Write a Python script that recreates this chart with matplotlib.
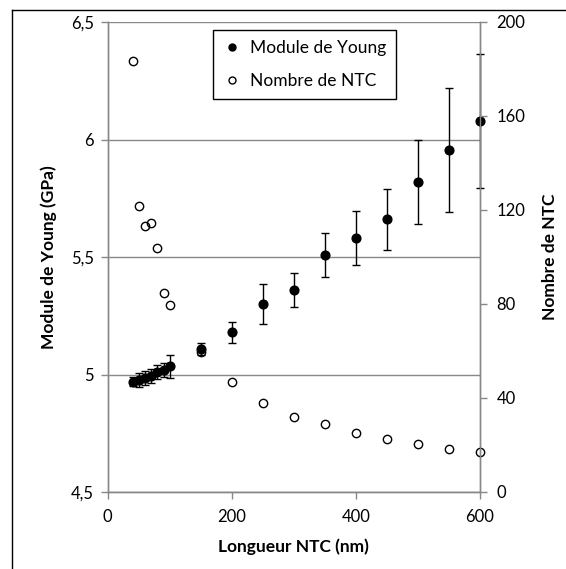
import matplotlib.pyplot as plt
from matplotlib.lines import Line2D
from matplotlib.ticker import FuncFormatter

plt.rcParams['font.family'] = ['Lato', 'DejaVu Sans']

# longueur des NTC (nm)
longueur = [40, 50, 60, 70, 80, 90, 100, 150, 200, 250, 300, 350, 400, 450, 500, 550, 600]
# module de Young (GPa) et erreur
young = [4.97, 4.975, 4.985, 4.995, 5.01, 5.02, 5.035, 5.11, 5.18, 5.30, 5.36, 5.51,
         5.58, 5.66, 5.82, 5.955, 6.08]
young_err = [0.02, 0.03, 0.03, 0.03, 0.03, 0.03, 0.05, 0.025, 0.045, 0.083, 0.072, 0.093,
             0.115, 0.13, 0.18, 0.265, 0.285]
# nombre de NTC
nombre = [183.5, 121.5, 113, 114.5, 104, 84.5, 79.5, 59.5, 47, 38, 32, 29,
          25, 22.6, 20.4, 18.5, 17.2]

gris = '#888888'

fig = plt.figure(figsize=(5.66, 5.69), dpi=100)
ax = fig.add_axes([107.7/566, 1 - 492/569, (480 - 107.7)/566, (492 - 22)/569])
ax2 = ax.twinx()

eb = ax.errorbar(longueur, young, yerr=young_err, fmt='o', color='black', ms=6.3,
                 ecolor='black', elinewidth=1, capsize=2.6, capthick=1, zorder=3)
for art in eb.lines[0:1] + tuple(eb.lines[1]) + tuple(eb.lines[2]):
    art.set_clip_on(False)
ax2.plot(longueur, nombre, 'o', mfc='none', mec='black', mew=1, ms=6, clip_on=False)

ax.set_xlim(0, 600)
ax.set_ylim(4.5, 6.5)
ax2.set_ylim(0, 200)
ax.set_xticks([0, 200, 400, 600])
ax.set_yticks([4.5, 5, 5.5, 6, 6.5])
ax2.set_yticks([0, 40, 80, 120, 160, 200])
ax.yaxis.set_major_formatter(FuncFormatter(lambda v, p: ('%g' % v).replace('.', ',')))

for a in (ax, ax2):
    for s in a.spines.values():
        s.set_color(gris)
        s.set_linewidth(1)
    a.spines['top'].set_visible(False)
ax.grid(axis='y', color=gris, lw=1)
ax.set_axisbelow(True)
ax.tick_params(axis='both', color=gris, length=5, width=1, labelsize=12, pad=5)
ax2.tick_params(axis='y', color=gris, length=5, width=1, labelsize=12, pad=7)
ax.tick_params(axis='x', pad=7)

ax.set_xlabel('Longueur NTC (nm)', fontsize=12.5, fontweight='bold', labelpad=10)
ax.set_ylabel('Module de Young (GPa)', fontsize=12.5, fontweight='bold', labelpad=10)
ax2.set_ylabel('Nombre de NTC', fontsize=12.5, fontweight='bold', labelpad=12)

handles = [Line2D([], [], ls='none', marker='o', color='black', ms=5),
           Line2D([], [], ls='none', marker='o', mfc='none', mec='black', mew=1, ms=5)]
leg = ax2.legend(handles, ['Module de Young', 'Nombre de NTC'], loc='upper left',
                 bbox_to_anchor=(0.283, 0.983), borderaxespad=0, fancybox=False,
                 edgecolor='black', framealpha=1, fontsize=12.5, handlelength=1.0,
                 handletextpad=0.5, labelspacing=0.95, borderpad=0.6)
leg.get_frame().set_linewidth(1)

# cadre de la zone du graphique
fig.add_artist(Line2D([12/566, 12/566], [0, 1 - 10/569], color='black', lw=1))
fig.add_artist(Line2D([12/566, 1], [1 - 10/569, 1 - 10/569], color='black', lw=1))

fig.savefig('out.png', dpi=100)
